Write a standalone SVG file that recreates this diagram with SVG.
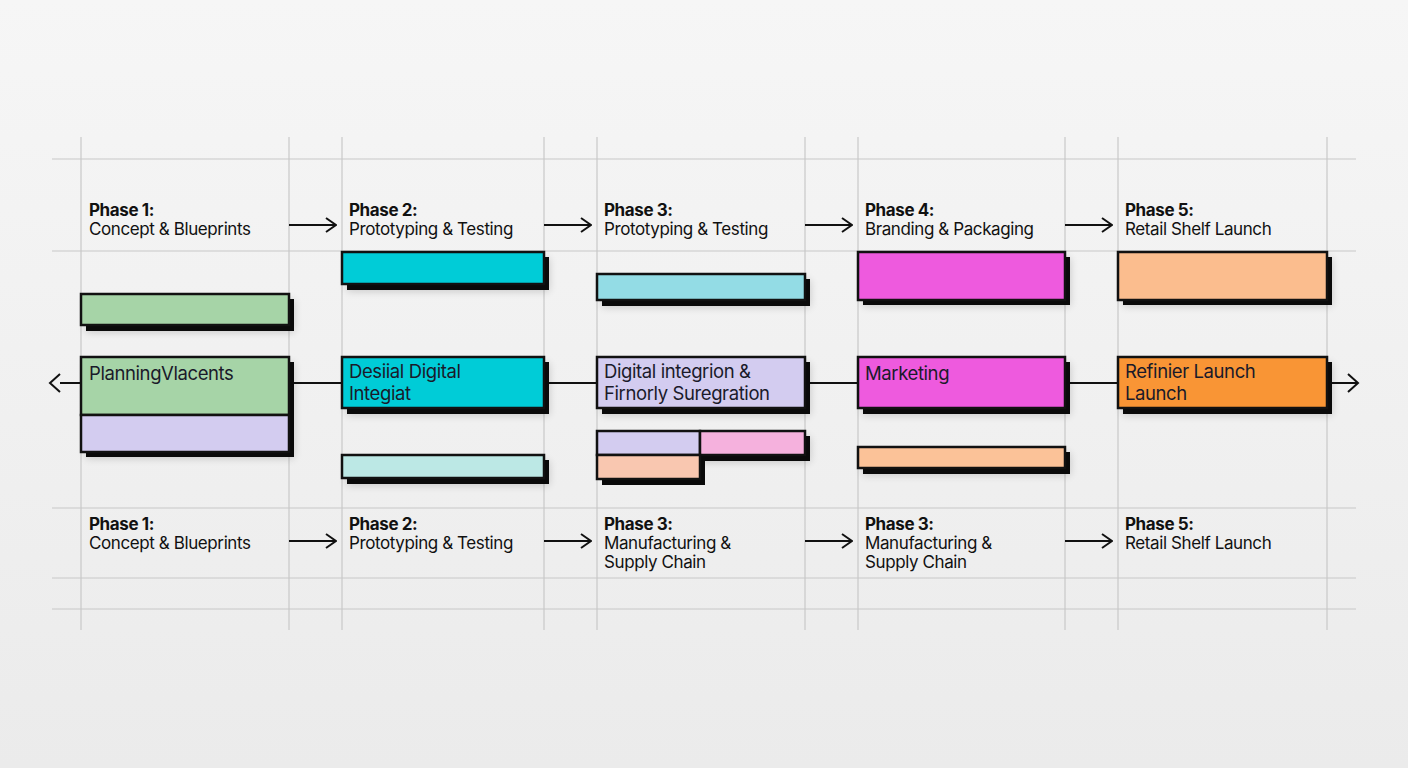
<svg xmlns="http://www.w3.org/2000/svg" width="1408" height="768" viewBox="0 0 1408 768">
<defs>
<linearGradient id="bg" x1="0" y1="0" x2="0" y2="1">
<stop offset="0" stop-color="#f6f6f6"/>
<stop offset="1" stop-color="#ebebeb"/>
</linearGradient>
<filter id="soft" x="-10%" y="-30%" width="130%" height="180%">
<feGaussianBlur stdDeviation="4"/>
</filter>
<marker id="chev" viewBox="0 0 12 16" refX="11" refY="8" markerWidth="12" markerHeight="16" markerUnits="userSpaceOnUse" orient="auto">
<path d="M1,1 L11,8 L1,15" fill="none" stroke="#111" stroke-width="2"/>
</marker>
</defs>
<style>
.grid{stroke:#c8c8c8;stroke-width:1.2;fill:none}
.bar{stroke:#111;stroke-width:2.5}
.sh{fill:#0a0a0a}
.blur{fill:#000;opacity:0.18}
.conn{stroke:#111;stroke-width:2;fill:none}
.t{font-family:Inter,"Liberation Sans",sans-serif;font-size:17px;fill:#111;letter-spacing:-0.4px}
.tb{font-weight:700}
.bl{font-family:Inter,"Liberation Sans",sans-serif;font-size:18.5px;fill:#1a1a2a;letter-spacing:-0.4px}
</style>
<rect width="1408" height="768" fill="url(#bg)"/>

<g id="grid">
<line class="grid" x1="52" y1="159" x2="1356" y2="159"/>
<line class="grid" x1="52" y1="251" x2="1356" y2="251"/>
<line class="grid" x1="52" y1="508" x2="1356" y2="508"/>
<line class="grid" x1="52" y1="578" x2="1356" y2="578"/>
<line class="grid" x1="52" y1="609" x2="1356" y2="609"/>
<line class="grid" x1="81" y1="137" x2="81" y2="630"/>
<line class="grid" x1="289" y1="137" x2="289" y2="630"/>
<line class="grid" x1="342" y1="137" x2="342" y2="630"/>
<line class="grid" x1="544" y1="137" x2="544" y2="630"/>
<line class="grid" x1="597" y1="137" x2="597" y2="630"/>
<line class="grid" x1="805" y1="137" x2="805" y2="630"/>
<line class="grid" x1="858" y1="137" x2="858" y2="630"/>
<line class="grid" x1="1065" y1="137" x2="1065" y2="630"/>
<line class="grid" x1="1118" y1="137" x2="1118" y2="630"/>
<line class="grid" x1="1327" y1="137" x2="1327" y2="630"/>
</g>

<g id="connectors">
<line class="conn" x1="60" y1="383" x2="1358" y2="383"/>
<path class="conn" d="M60,374 L50,383 L60,392"/>
<path class="conn" d="M1348,374 L1358,383 L1348,392"/>
<line class="conn" x1="289" y1="225" x2="336" y2="225" marker-end="url(#chev)"/>
<line class="conn" x1="544" y1="225" x2="591" y2="225" marker-end="url(#chev)"/>
<line class="conn" x1="805" y1="225" x2="852" y2="225" marker-end="url(#chev)"/>
<line class="conn" x1="1065" y1="225" x2="1112" y2="225" marker-end="url(#chev)"/>
<line class="conn" x1="289" y1="541" x2="336" y2="541" marker-end="url(#chev)"/>
<line class="conn" x1="544" y1="541" x2="591" y2="541" marker-end="url(#chev)"/>
<line class="conn" x1="805" y1="541" x2="852" y2="541" marker-end="url(#chev)"/>
<line class="conn" x1="1065" y1="541" x2="1112" y2="541" marker-end="url(#chev)"/>
</g>

<g id="header-labels">
<text class="t" x="89" y="216"><tspan class="tb">Phase 1:</tspan><tspan x="89" y="235">Concept &amp; Blueprints</tspan></text>
<text class="t" x="349" y="216"><tspan class="tb">Phase 2:</tspan><tspan x="349" y="235">Prototyping &amp; Testing</tspan></text>
<text class="t" x="604" y="216"><tspan class="tb">Phase 3:</tspan><tspan x="604" y="235">Prototyping &amp; Testing</tspan></text>
<text class="t" x="865" y="216"><tspan class="tb">Phase 4:</tspan><tspan x="865" y="235">Branding &amp; Packaging</tspan></text>
<text class="t" x="1125" y="216"><tspan class="tb">Phase 5:</tspan><tspan x="1125" y="235">Retail Shelf Launch</tspan></text>
</g>

<g id="footer-labels">
<text class="t" x="89" y="530"><tspan class="tb">Phase 1:</tspan><tspan x="89" y="549">Concept &amp; Blueprints</tspan></text>
<text class="t" x="349" y="530"><tspan class="tb">Phase 2:</tspan><tspan x="349" y="549">Prototyping &amp; Testing</tspan></text>
<text class="t" x="604" y="530"><tspan class="tb">Phase 3:</tspan><tspan x="604" y="549">Manufacturing &amp;</tspan><tspan x="604" y="568">Supply Chain</tspan></text>
<text class="t" x="865" y="530"><tspan class="tb">Phase 3:</tspan><tspan x="865" y="549">Manufacturing &amp;</tspan><tspan x="865" y="568">Supply Chain</tspan></text>
<text class="t" x="1125" y="530"><tspan class="tb">Phase 5:</tspan><tspan x="1125" y="549">Retail Shelf Launch</tspan></text>
</g>

<!-- Phase 1 -->
<g id="p1-bar">
<rect class="blur" x="86" y="300" width="208" height="32" filter="url(#soft)"/>
<rect class="sh" x="86" y="299" width="208" height="32"/>
<rect class="bar" x="81" y="294" width="208" height="31" fill="#a6d4a7"/>
</g>
<g id="p1-main">
<rect class="blur" x="86" y="363" width="208" height="95" filter="url(#soft)"/>
<rect class="sh" x="86" y="362" width="208" height="95"/>
<rect class="bar" x="81" y="357" width="208" height="58" fill="#a6d4a7"/>
<rect class="bar" x="81" y="415" width="208" height="37" fill="#d3ccf0"/>
<text class="bl" x="89" y="380">PlanningVlacents</text>
</g>

<!-- Phase 2 -->
<g id="p2-bar">
<rect class="blur" x="347" y="258" width="202" height="33" filter="url(#soft)"/>
<rect class="sh" x="347" y="257" width="202" height="33"/>
<rect class="bar" x="342" y="252" width="202" height="32" fill="#00ccd7"/>
</g>
<g id="p2-main">
<rect class="blur" x="347" y="363" width="202" height="52" filter="url(#soft)"/>
<rect class="sh" x="347" y="362" width="202" height="52"/>
<rect class="bar" x="342" y="357" width="202" height="51" fill="#00ccd7"/>
<text class="bl" x="349" y="378">Desiial Digital</text>
<text class="bl" x="349" y="400">Integiat</text>
</g>
<g id="p2-low">
<rect class="blur" x="347" y="461" width="202" height="24" filter="url(#soft)"/>
<rect class="sh" x="347" y="460" width="202" height="24"/>
<rect class="bar" x="342" y="455" width="202" height="23" fill="#bce8e5"/>
</g>

<!-- Phase 3 -->
<g id="p3-bar">
<rect class="blur" x="602" y="280" width="208" height="27" filter="url(#soft)"/>
<rect class="sh" x="602" y="279" width="208" height="27"/>
<rect class="bar" x="597" y="274" width="208" height="26" fill="#93dce5"/>
</g>
<g id="p3-main">
<rect class="blur" x="602" y="363" width="208" height="52" filter="url(#soft)"/>
<rect class="sh" x="602" y="362" width="208" height="52"/>
<rect class="bar" x="597" y="357" width="208" height="51" fill="#d3ccf0"/>
<text class="bl" x="604" y="378">Digital integrion &amp;</text>
<text class="bl" x="604" y="400">Firnorly Suregration</text>
</g>
<g id="p3-low">
<rect class="blur" x="602" y="437" width="208" height="25" filter="url(#soft)"/>
<rect class="sh" x="602" y="436" width="208" height="25"/>
<rect class="sh" x="602" y="460" width="103" height="25"/>
<rect class="bar" x="597" y="431" width="103" height="24" fill="#d3ccf0"/>
<rect class="bar" x="700" y="431" width="105" height="24" fill="#f5b1dd"/>
<rect class="bar" x="597" y="455" width="103" height="24" fill="#f9c7b0"/>
</g>

<!-- Phase 4 -->
<g id="p4-bar">
<rect class="blur" x="863" y="258" width="207" height="48" filter="url(#soft)"/>
<rect class="sh" x="863" y="257" width="207" height="48"/>
<rect class="bar" x="858" y="252" width="207" height="48" fill="#ee5ade"/>
</g>
<g id="p4-main">
<rect class="blur" x="863" y="363" width="207" height="52" filter="url(#soft)"/>
<rect class="sh" x="863" y="362" width="207" height="52"/>
<rect class="bar" x="858" y="357" width="207" height="51" fill="#ee5ade"/>
<text class="bl" x="865" y="380">Marketing</text>
</g>
<g id="p4-low">
<rect class="blur" x="863" y="453" width="207" height="22" filter="url(#soft)"/>
<rect class="sh" x="863" y="452" width="207" height="22"/>
<rect class="bar" x="858" y="447" width="207" height="21" fill="#fbc298"/>
</g>

<!-- Phase 5 -->
<g id="p5-bar">
<rect class="blur" x="1123" y="258" width="209" height="48" filter="url(#soft)"/>
<rect class="sh" x="1123" y="257" width="209" height="48"/>
<rect class="bar" x="1118" y="252" width="209" height="48" fill="#fbbd8e"/>
</g>
<g id="p5-main">
<rect class="blur" x="1123" y="363" width="209" height="52" filter="url(#soft)"/>
<rect class="sh" x="1123" y="362" width="209" height="52"/>
<rect class="bar" x="1118" y="357" width="209" height="51" fill="#f99535"/>
<text class="bl" x="1125" y="378">Refinier Launch</text>
<text class="bl" x="1125" y="400">Launch</text>
</g>
</svg>
